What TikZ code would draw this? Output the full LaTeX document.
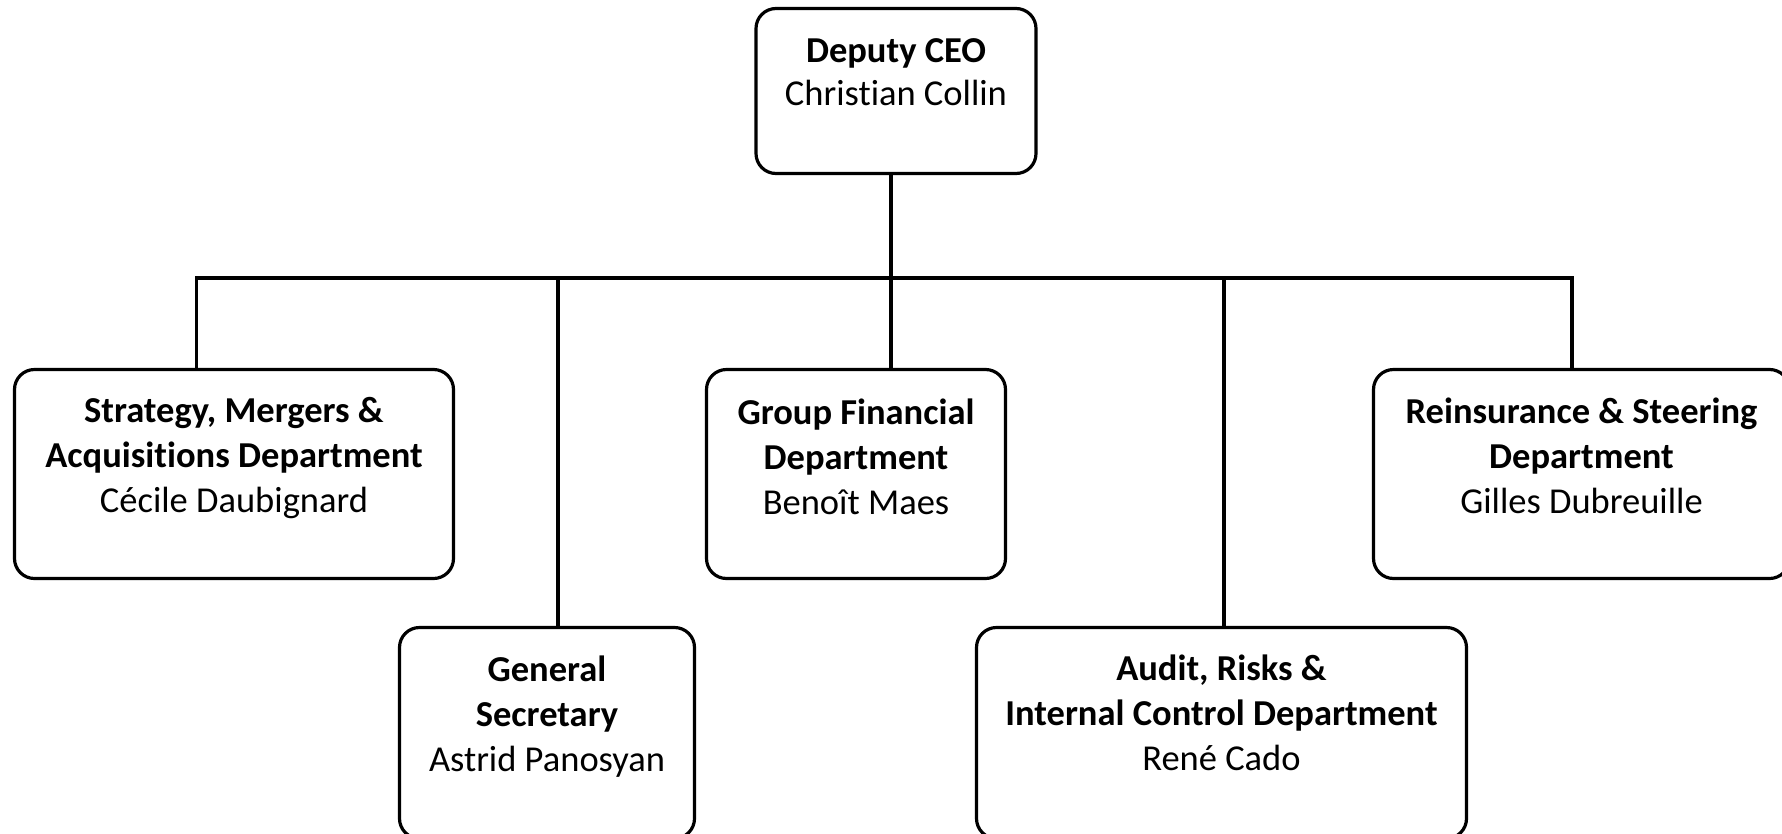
\documentclass[tikz,border=0pt]{standalone}
\usepackage{fontspec}
\setmainfont{Carlito}[Ligatures=NoCommon]
\newcommand{\orgtext}[5][28pt]{\parbox[c][#3][t]{#2}{\centering\vspace*{#1}\fontsize{36.5pt}{#5}\selectfont #4\par}}
\tikzset{
  orgbox/.style={draw, line width=3.2pt, rounded corners=20pt, inner sep=0pt, fill=white},
  conn/.style={line width=3.2pt, line join=miter}
}
\begin{document}
\begin{tikzpicture}[x=1pt,y=-1pt]
\useasboundingbox (0,0) rectangle (1782,833);
\node[orgbox] (ceo) at (896,91) {\orgtext[30.5pt]{280pt}{165pt}{\textbf{Deputy CEO}\\Christian Collin}{42.5pt}};
\node[orgbox] (strat) at (234,474) {\orgtext{439pt}{209pt}{\textbf{Strategy, Mergers \&}\\\textbf{Acquisitions Department}\\Cécile Daubignard}{45pt}};
\node[orgbox] (gfd) at (856,474) {\orgtext[29pt]{299pt}{209pt}{\textbf{Group Financial}\\\textbf{Department}\\Benoît Maes}{45pt}};
\node[orgbox] (reins) at (1581.5,474) {\orgtext[28.5pt]{416pt}{209pt}{\textbf{Reinsurance \& Steering}\\\textbf{Department}\\Gilles Dubreuille}{45pt}};
\node[orgbox] (gs) at (547,733) {\orgtext[28.5pt]{295pt}{211pt}{\textbf{General}\\\textbf{Secretary}\\Astrid Panosyan}{45pt}};
\node[orgbox] (audit) at (1221.5,733) {\orgtext[27.5pt]{490pt}{211pt}{\textbf{Audit, Risks \&}\\\textbf{Internal Control Department}\\René Cado}{45pt}};
\coordinate (b1) at (196.5,278);
\coordinate (b2) at (558,278);
\coordinate (b3) at (891,278);
\coordinate (b4) at (1224,278);
\coordinate (b5) at (1572,278);
\draw[conn] (strat.north -| b1) -- (b1) -- (b5) -- (reins.north -| b5);
\draw[conn] (ceo.south -| b3) -- (gfd.north -| b3);
\draw[conn] (b2) -- (gs.north -| b2);
\draw[conn] (b4) -- (audit.north -| b4);
\end{tikzpicture}
\end{document}
